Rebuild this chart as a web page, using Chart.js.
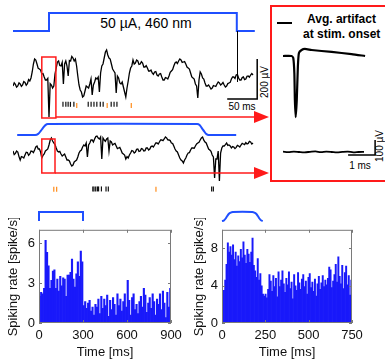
<!DOCTYPE html>
<html>
<head>
<meta charset="utf-8">
<script src="https://cdn.jsdelivr.net/npm/chart.js@4.4.0/dist/chart.umd.min.js"></script>
<style>
	body{margin:0;background:#fff;}
	#fig{position:relative;width:385px;height:360px;overflow:hidden;background:#fff;font-family:"Liberation Sans",Arial,sans-serif;color:#000;}
	.txt{position:absolute;white-space:nowrap;line-height:1;}
	.rot{transform:translate(-50%,-50%) rotate(-90deg);}
	.mid{transform:translate(-50%,-50%);}
	svg{position:absolute;left:0;top:0;pointer-events:none;}
</style>
</head>
<body>
<div id="fig">
	<div class="txt mid" style="left:146px;top:23px;font-size:14px;">50 µA, 460 nm</div>
	<div class="txt rot" style="left:265px;top:82px;font-size:10px;">200 µV</div>
	<div class="txt mid" style="left:242px;top:107px;font-size:10px;">50 ms</div>
	<div style="position:absolute;left:277px;top:22px;width:15px;height:2px;background:#000;"></div>
	<div class="txt" style="left:307px;top:13px;font-size:12px;font-weight:bold;">Avg. artifact</div>
	<div class="txt" style="left:303px;top:28px;font-size:12px;font-weight:bold;">at stim. onset</div>
	<div class="txt mid" style="left:360px;top:166px;font-size:10px;">1 ms</div>
	<div class="txt rot" style="left:380px;top:146px;font-size:10px;">100 µV</div>
	<svg width="385" height="360">
		<rect x="271" y="6" width="130" height="175" fill="none" stroke="#ff1a1a" stroke-width="2"/>
		<line x1="56" y1="117" x2="256" y2="117" stroke="#ff1a1a" stroke-width="1.5"/>
		<polygon points="254,111 269,117 254,123" fill="#ff1a1a"/>
		<line x1="55" y1="173" x2="256" y2="173" stroke="#ff1a1a" stroke-width="1.5"/>
		<polygon points="254,167 269,173 254,179" fill="#ff1a1a"/>
	</svg>
</div>
<script>
// recordings, one sample every 2 ms, values in µV
const traceStep = 2;
const trace1 = [-30,-14,-22,-36,-30,-14,-20,-32,-25,-8, -12,-26,-18,2,-5,10,40,80,105,100,
	80,58,55,50,30,32,15,0,0,8, -185,-18,-25,-40,-30,30,60,90,95,72,
	70,88,-20,80,95,70,20,98,95,118, 110,95,105,70,20,-25,-50,-60,-85,-80,
	-55,-30,-35,-40,-20,5,-75,-25,-10,10, 5,15,-60,35,70,80,110,140,150,125,
	110,105,80,55,45,35,-65,20,10,-15, -20,-10,-35,-60,-85,-40,-5,35,60,70,
	100,80,85,100,95,78,80,92,85,65, 65,72,60,45,45,50,35,28,40,42,
	25,20,30,32,15,0,0,12,10,5, 20,38,45,52,70,85,90,82,95,105,
	100,88,90,92,80,65,60,55,35,15, 10,5,-20,-30,-90,0,40,30,10,5,
	-15,-30,-30,-25,-35,-45,-40,-28,-30,-32, -20,-10,-15,-25,-20,-12,-25,-35,-30,-18,
	-15,-12,5,15,15,8,25,28,10,0, 0,12,15,2,5,18,20,14,25,32, 25];
const trace2 = [20,2,8,20,15,-8,-25,-8,-10,-15, 0,14,12,-2,5,20,18,12,25,40,
	45,30,30,15,-15,-2,5,20,25,30, 50,75,85,70,60,52,35,20,15,18,
	5,-5,0,5,-10,-25,-25,-30,-45,-55, -50,-35,-30,-25,-10,10,20,25,40,50,
	45,60,-10,50,60,75,75,65,80,92, 95,85,80,90,-20,85,75,68,80,85,
	20,70,65,50,55,58,45,32,35,38, 25,10,5,0,-20,-8,-15,0,10,22,
	20,10,15,28,30,18,20,32,30,20, 22,35,35,25,30,42,45,40,50,60,
	60,55,65,75,75,72,80,90,85,76, 75,72,60,58,45,30,20,15,0,-15,
	-25,-30,-40,-25,-15,0,10,12,25,35, 35,34,45,55,60,64,75,85,90,74,
	65,60,45,30,25,18,0,-10,-115,-20, -20,20,-130,10,35,45,45,52,60,48,
	50,45,35,42,40,32,38,48,45,40, 50,58,55,52,62,55,58,68,65,55, 60];

// spike times [ms]
const spikes1Black = [78, 83, 87, 91, 97, 122, 127, 132, 137, 143, 148, 162, 167, 172];
const spikes1Orange = [102, 155, 197];
const spikes2Black = [130, 132, 135, 138, 140, 145, 153, 157, 337, 340];
const spikes2Orange = [62, 67, 240];

// stimulation profiles (time [ms], relative level)
const stim1Time = [0, 60, 60, 373, 373, 403];
const stim1Level = [0, 0, 1, 1, 0, 0];
const stim2Time = [7, 37, 42, 46, 50, 54, 58, 307, 311, 315, 319, 322, 326, 372];
const stim2Level = [0, 0, 0.1, 0.35, 0.65, 0.9, 1, 1, 0.9, 0.6, 0.3, 0.1, 0, 0];

// average artifact at stim onset (time [ms], µV)
const artTime = [0, 0.31, 0.38, 0.42, 0.44, 0.47, 0.51, 0.55, 0.59, 0.69, 0.81, 1.06, 1.8, 2.54, 3.04];
const artSquare = [0, 0, -13, -113, -293, -407, -293, -73, 20, 40, 47, 40, 27, 13, 0];
const rampTime = [0, 0.2, 0.4, 0.6, 0.8, 1.0, 1.2, 1.4, 1.6, 1.8, 2.0, 2.2, 2.4, 2.6, 2.8, 3.0];
const artRamp = [2, -1, 3, 0, -2, 1, 4, -1, 2, 0, -3, 1, 3, -2, 0, 1];

// PSTH, spike/s per bin
const histLeftBin = 10;
const histLeft = [2.0,2.3,2.2,2.6,6.2,5.3,4.3,2.6,3.2,3.9, 4.0,2.6,3.3,2.4,3.5,2.8,3.4,3.3,2.0,3.6,
	3.6,3.8,4.8,3.3,2.7,3.7,4.6,3.5,5.4,4.6, 1.3,1.6,1.1,1.5,1.7,0.9,1.2,0.6,1.4,1.2,
	1.8,0.7,2.0,1.1,1.8,1.3,2.1,0.5,1.7,1.0, 1.9,1.4,0.6,2.2,1.3,1.8,0.9,1.6,2.2,1.2,
	3.2,1.7,0.6,1.9,2.2,1.0,1.4,0.7,1.6,2.0, 1.2,2.6,2.1,0.8,1.5,1.9,1.1,2.2,1.6,0.6,
	1.8,1.4,2.2,1.0,2.4,1.5,0.4,2.3,1.2,2.6];
const histRightBin = 7.5;
const histRight = [2.8,3.5,4.6,6.3,8.6,7.6,8.2,7.3,8.4,6.8, 7.6,6.1,7.2,6.6,7.9,7.0,8.7,7.3,6.4,7.9,
	7.4,6.5,7.6,9.1,6.2,5.6,4.9,6.9,4.6,5.3, 4.0,3.1,2.9,3.1,2.7,3.6,5.2,4.5,3.4,5.1,
	3.9,4.8,2.8,5.5,3.9,4.6,5.6,4.2,3.3,4.8, 4.1,5.5,3.7,4.4,2.6,5.2,4.0,3.5,5.4,4.3,
	3.6,4.7,5.2,3.9,4.5,3.1,4.9,5.3,3.8,4.4, 3.4,4.7,2.9,4.2,5.0,3.6,4.3,5.1,3.9,4.6,
	4.1,4.8,6.0,5.7,3.8,4.5,5.2,6.3,4.4,7.1, 5.0,4.2,6.2,3.7,5.4,6.1,4.1,5.1,3.0,4.6];
const histLeftXTicks = [0, 300, 600, 900];
const histLeftYTicks = [0, 3, 6];
const histRightXTicks = [0, 250, 500, 750];
const histRightYTicks = [0, 4, 8];
const stimLTime = [0, 0, 300, 300];
const stimLLevel = [0, 1, 1, 0];
const stimRTime = [0, 10, 20, 30, 40, 50, 62, 175, 187, 197, 207, 217, 227, 235];
const stimRLevel = [0, 0.05, 0.25, 0.55, 0.8, 0.93, 1, 1, 0.93, 0.8, 0.55, 0.25, 0.05, 0];

const blue = '#1f4fff';
const red = '#ff1a1a';
const orange = '#ff8c1a';

class Figure {
	constructor (){
		const _ = this;
		_.fig = document.getElementById('fig');
		Chart.defaults.font.family = '"Liberation Sans", Arial, sans-serif';
		Chart.defaults.color = '#111';
		_.init();
	}

	place(left, top, width, height){
		const _ = this;
		let box = document.createElement('div');
		box.style.cssText = 'position:absolute;left:' + left + 'px;top:' + top + 'px;width:' + width + 'px;height:' + height + 'px;';
		let canvas = document.createElement('canvas');
		box.appendChild(canvas);
		_.fig.insertBefore(box, _.fig.querySelector('svg'));
		return canvas;
	}

	series(xs, ys, color, width, tension){
		return {
			data: xs.map((t, i) => ({x: t, y: ys[i]})),
			borderColor: color,
			borderWidth: width,
			pointRadius: 0,
			tension: tension || 0,
			clip: false
		};
	}

	spikes(times, row, color){
		return {
			data: times.map(t => ({x: t, y: row})),
			showLine: false,
			pointStyle: 'line',
			rotation: 90,
			pointRadius: 2.5,
			pointBorderWidth: 1.2,
			pointBorderColor: color,
			borderColor: color,
			clip: false
		};
	}

	plain(canvas, datasets, xr, yr, padding, extra){
		return new Chart(canvas, {
			type: 'line',
			data: {datasets: datasets},
			options: {
				responsive: true, maintainAspectRatio: false, animation: false, events: [],
				devicePixelRatio: 1,
				layout: {padding: padding},
				plugins: {legend: {display: false}, tooltip: {enabled: false}},
				scales: {
					x: {type: 'linear', display: false, min: xr[0], max: xr[1]},
					y: {type: 'linear', display: false, min: yr[0], max: yr[1]}
				}
			},
			plugins: extra ? [extra] : []
		});
	}

	traceMarks(win, boxUv, offsetAt, bar){
		return {
			id: 'traceMarks',
			afterDraw(chart){
				const {ctx} = chart;
				const x = chart.scales.x, y = chart.scales.y;
				ctx.save();
				if (offsetAt) {
					ctx.strokeStyle = '#000';
					ctx.lineWidth = 1;
					ctx.beginPath();
					ctx.moveTo(Math.round(x.getPixelForValue(offsetAt[0])) + 0.5, 0);
					ctx.lineTo(Math.round(x.getPixelForValue(offsetAt[0])) + 0.5, y.getPixelForValue(offsetAt[1]));
					ctx.stroke();
				}
				if (bar) {
					ctx.strokeStyle = '#000';
					ctx.lineWidth = 1.5;
					ctx.beginPath();
					ctx.moveTo(x.getPixelForValue(bar.t - bar.ms), y.getPixelForValue(bar.v));
					ctx.lineTo(x.getPixelForValue(bar.t), y.getPixelForValue(bar.v));
					ctx.lineTo(x.getPixelForValue(bar.t), y.getPixelForValue(bar.v + bar.uv));
					ctx.stroke();
				}
				if (win) {
					ctx.strokeStyle = red;
					ctx.lineWidth = 1.5;
					let x0 = x.getPixelForValue(win[0]), x1 = x.getPixelForValue(win[1]);
					let y0 = y.getPixelForValue(boxUv[0]), y1 = y.getPixelForValue(boxUv[1]);
					ctx.strokeRect(x0, y0, x1 - x0, y1 - y0);
				}
				ctx.restore();
			}
		};
	}

	frame(xTicks, yTicks){
		return {
			id: 'frame',
			afterDraw(chart){
				const {ctx, chartArea: a} = chart;
				const x = chart.scales.x, y = chart.scales.y;
				ctx.save();
				ctx.strokeStyle = '#7a7a7a';
				ctx.lineWidth = 1;
				ctx.strokeRect(a.left + 0.5, a.top + 0.5, a.right - a.left - 1, a.bottom - a.top - 1);
				ctx.beginPath();
				xTicks.forEach(v => {
					let px = Math.round(x.getPixelForValue(v)) + 0.5;
					ctx.moveTo(px, a.bottom); ctx.lineTo(px, a.bottom - 3);
					ctx.moveTo(px, a.top); ctx.lineTo(px, a.top + 3);
				});
				yTicks.forEach(v => {
					let py = Math.round(y.getPixelForValue(v)) + 0.5;
					ctx.moveTo(a.left, py); ctx.lineTo(a.left + 3, py);
					ctx.moveTo(a.right, py); ctx.lineTo(a.right - 3, py);
				});
				ctx.stroke();
				ctx.restore();
			}
		};
	}

	hist(canvas, rates, bin, xMax, yMax, xTicks, yTicks, yWidth, titlePad, rightPad){
		const _ = this;
		return new Chart(canvas, {
			type: 'bar',
			data: {
				datasets: [{
					data: rates.map((r, i) => ({x: (i + 0.5) * bin, y: r})),
					backgroundColor: 'rgb(25,25,250)',
					borderWidth: 0,
					barPercentage: 1,
					categoryPercentage: 1
				}]
			},
			options: {
				responsive: true, maintainAspectRatio: false, animation: false, events: [],
				devicePixelRatio: 1,
				layout: {padding: {top: 5, right: rightPad, left: 0, bottom: 0}},
				plugins: {legend: {display: false}, tooltip: {enabled: false}},
				scales: {
					x: {
						type: 'linear', min: 0, max: xMax, offset: false,
						grid: {display: false, drawTicks: false}, border: {display: false},
						ticks: {autoSkip: false, maxRotation: 0, padding: 5, font: {size: 13}},
						afterBuildTicks: s => { s.ticks = xTicks.map(v => ({value: v})); },
						afterFit: s => { s.height = 37; },
						title: {display: true, text: 'Time [ms]', font: {size: 13}, padding: {top: 0, bottom: 0}}
					},
					y: {
						type: 'linear', min: 0, max: yMax,
						grid: {display: false, drawTicks: false}, border: {display: false},
						ticks: {padding: 4, font: {size: 13}},
						afterBuildTicks: s => { s.ticks = yTicks.map(v => ({value: v})); },
						afterFit: s => { s.width = yWidth; },
						title: {display: true, text: 'Spiking rate [spike/s]', font: {size: 13}, padding: {top: titlePad, bottom: 0}}
					}
				}
			},
			plugins: [_.frame(xTicks, yTicks)]
		});
	}

	traces(){
		const _ = this;
		let t = trace1.map((v, i) => i * traceStep);

		_.plain(_.place(13, 8, 245, 28), [_.series(stim1Time, stim1Level, blue, 2)],
			[0, 400], [-0.1667, 1.1667], {top: 2, bottom: 2, left: 0, right: 5});

		_.plain(_.place(13, 31, 262, 100), [_.series(t, trace1, '#000', 1.3)],
			[0, 400], [-200, 200], {top: 9, bottom: 11, left: 0, right: 22},
			_.traceMarks([48, 71.5], [115, -190], [373, -10], {t: 407, ms: 50, v: -95, uv: 200}));

		_.plain(_.place(13, 98, 240, 14), [_.spikes(spikes1Black, 0.68, '#111'), _.spikes(spikes1Orange, 0.36, orange)],
			[0, 400], [0, 1], 0);

		_.plain(_.place(13, 119, 245, 21), [_.series(stim2Time, stim2Level, blue, 2, 0.3)],
			[0, 400], [-0.273, 1.273], {top: 2, bottom: 2, left: 0, right: 5});

		_.plain(_.place(13, 118, 262, 72), [_.series(t, trace2, '#000', 1.3)],
			[0, 400], [-150, 150], {top: 7, bottom: 5, left: 0, right: 22},
			_.traceMarks([48, 70], [80, -90], null, null));

		_.plain(_.place(13, 183, 240, 12), [_.spikes(spikes2Black, 0.54, '#111'), _.spikes(spikes2Orange, 0.42, orange)],
			[0, 400], [0, 1], 0);
	}

	artifacts(){
		const _ = this;
		_.plain(_.place(283, 40, 90, 86), [_.series(artTime, artSquare, '#000', 2.2, 0.2)],
			[0, 3.11], [-440, 80], {top: 4, bottom: 4, left: 0, right: 6});

		_.plain(_.place(283, 130, 100, 40), [_.series(rampTime, artRamp, '#000', 1.8, 0.3)],
			[0, 3.11], [-80, 80], {top: 10, bottom: 6, left: 0, right: 16},
			_.traceMarks(null, null, null, {t: 3.41, ms: 1, v: -20, uv: 100}));
	}

	histograms(){
		const _ = this;
		_.plain(_.place(36, 209, 138, 14), [_.series(stimLTime, stimLLevel, blue, 2)],
			[0, 900], [-0.222, 1.333], {top: 0, bottom: 0, left: 3, right: 3});
		_.plain(_.place(219, 209, 136, 14), [_.series(stimRTime, stimRLevel, blue, 2, 0.3)],
			[0, 750], [-0.222, 1.333], {top: 0, bottom: 0, left: 3, right: 3});

		_.hist(_.place(0, 218, 190, 142), histLeft, histLeftBin, 900, 7, histLeftXTicks, histLeftYTicks, 39, 6, 19);
		_.hist(_.place(185, 218, 200, 142), histRight, histRightBin, 750, 10, histRightXTicks, histRightYTicks, 37, 7, 33);
	}

	init(){
		const _ = this;
		_.traces();
		_.artifacts();
		_.histograms();
	}
}
new Figure();
</script>
</body>
</html>
